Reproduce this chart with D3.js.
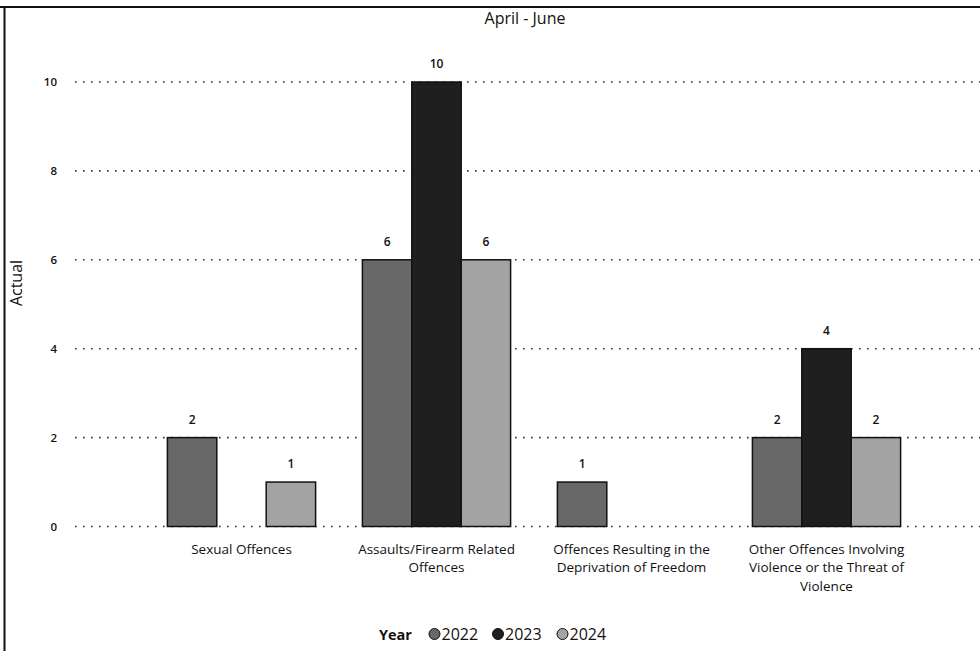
<!DOCTYPE html>
<html><head><meta charset="utf-8">
<script src="https://cdn.jsdelivr.net/npm/d3@7"></script>
<style>body{margin:0;background:#fff}svg{display:block}text{font-family:"Open Sans",sans-serif;fill:#111}</style>
</head><body><svg id="c" width="980" height="651"></svg>
<script>
const categories = ["Sexual Offences","Assaults/Firearm Related Offences","Offences Resulting in the Deprivation of Freedom","Other Offences Involving Violence or the Threat of Violence"];
const years = ["2022","2023","2024"];
const values2022 = [2,6,1,2];
const values2023 = [null,10,null,4];
const values2024 = [1,6,null,2];
const yTicks = [0,2,4,6,8,10];
const title = "April - June";
const yLabel = "Actual";
const legendTitle = "Year";
const colors = ["#686868","#1f1f1f","#a3a3a3"];

const series = [values2022, values2023, values2024];
const svg = d3.select("#c");

// frame
svg.append("line").attr("x1",0).attr("x2",980).attr("y1",7).attr("y2",7).attr("stroke","#111").attr("stroke-width",2);
svg.append("line").attr("x1",4.5).attr("x2",4.5).attr("y1",7).attr("y2",651).attr("stroke","#111").attr("stroke-width",2);

const x = d3.scaleBand().domain(categories).range([144,924]).paddingInner(0.24).paddingOuter(0.12);
const x1 = d3.scaleBand().domain(years).range([0,x.bandwidth()]);
const y = d3.scaleLinear().domain([0,10]).range([526.5,82]);

svg.append("text").attr("x",525).attr("y",24).attr("text-anchor","middle").style("font-size","16px").text(title);

// grid
const grid = svg.append("g");
grid.selectAll("line").data(yTicks).join("line")
  .attr("x1",75).attr("x2",980).attr("y1",d=>y(d)).attr("y2",d=>y(d))
  .attr("stroke","#333").attr("stroke-width",1.6).attr("stroke-dasharray","1.6,6.4");

// y axis
const yAxis = d3.axisLeft(y).tickValues(yTicks).tickSize(0).tickPadding(0);
const ya = svg.append("g").attr("transform","translate(57,0)").call(yAxis);
ya.select(".domain").remove();
ya.selectAll("text").style("font-size","11.5px").style("font-family","'Open Sans',sans-serif").style("font-weight","600");

svg.append("text").attr("transform","translate(22,283) rotate(-90)").attr("text-anchor","middle").style("font-size","16px").text(yLabel);

// bars
const bars = [];
categories.forEach((c,i)=>series.forEach((s,j)=>{ if(s[i]!=null) bars.push({c,yr:years[j],v:s[i],j}); }));
svg.append("g").selectAll("rect").data(bars).join("rect")
  .attr("x",d=>x(d.c)+x1(d.yr)).attr("width",x1.bandwidth())
  .attr("y",d=>y(d.v)).attr("height",d=>y(0)-y(d.v))
  .attr("fill",d=>colors[d.j]).attr("stroke","#111").attr("stroke-width",1.5);
svg.append("g").selectAll("text").data(bars).join("text")
  .attr("x",d=>x(d.c)+x1(d.yr)+x1.bandwidth()/2).attr("y",d=>y(d.v)-14)
  .attr("text-anchor","middle").style("font-size","12px").style("font-weight","600").text(d=>d.v);

// x axis labels with wrapping
const xAxis = d3.axisBottom(x).tickSize(0).tickPadding(0);
const xa = svg.append("g").attr("transform","translate(0,544)").call(xAxis);
xa.select(".domain").remove();
xa.selectAll("text").style("font-size","13.5px").style("font-family","'Open Sans',sans-serif")
  .each(function(d){
    const t = d3.select(this); const words = d.split(" "); t.text(null);
    let line = [], lines = [];
    const tmp = t.append("tspan");
    words.forEach(w=>{ line.push(w); tmp.text(line.join(" ")); if(tmp.node().getComputedTextLength()>195 && line.length>1){ line.pop(); lines.push(line.join(" ")); line=[w]; } });
    lines.push(line.join(" ")); tmp.remove();
    lines.forEach((l,k)=>t.append("tspan").attr("x",0).attr("dy",k===0?"0.71em":"18.5px").text(l));
  });

// legend
const lg = svg.append("g");
lg.append("text").attr("x",379).attr("y",640).style("font-size","14.5px").style("font-weight","bold").text(legendTitle);
const lx = [434.5,498,562.5];
years.forEach((yr,j)=>{
  lg.append("circle").attr("cx",lx[j]).attr("cy",634).attr("r",5.5).attr("fill",colors[j]).attr("stroke","#111").attr("stroke-width",1);
  lg.append("text").attr("x",lx[j]+7).attr("y",640).style("font-size","16px").text(yr);
});
</script></body></html>
